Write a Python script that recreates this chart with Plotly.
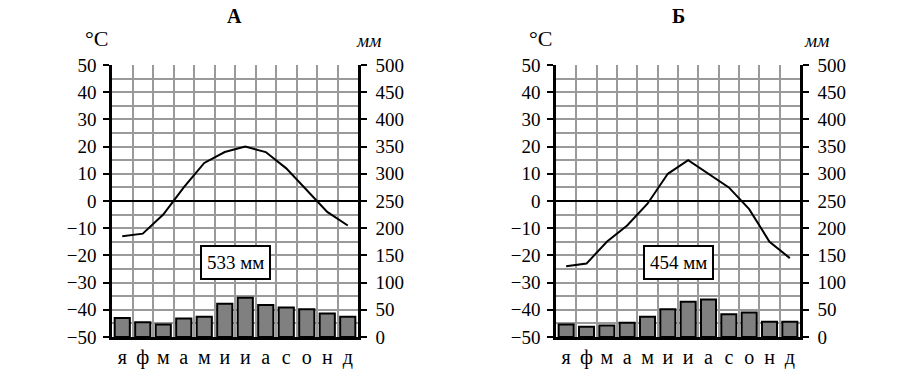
import plotly.graph_objects as go

months = ["я", "ф", "м", "а", "м", "и", "и", "а", "с", "о", "н", "д"]
temp_a = [-13, -12, -5, 5, 14, 18, 20, 18, 12, 4, -4, -9]
prec_a = [35, 27, 23, 34, 37, 61, 72, 59, 54, 51, 43, 37]
temp_b = [-24, -23, -15, -9, -1, 10, 15, 10, 5, -3, -15, -21]
prec_b = [23, 19, 21, 26, 37, 51, 65, 69, 42, 45, 28, 28]
titles = ["А", "Б"]
totals = ["533 мм", "454 мм"]
temp_ticks = [-50, -40, -30, -20, -10, 0, 10, 20, 30, 40, 50]
prec_ticks = [0, 50, 100, 150, 200, 250, 300, 350, 400, 450, 500]

W, H = 918, 384
OFF = 8  # page body margin offset
FONT = "Liberation Serif"
xpos = [i + 0.5 for i in range(12)]


def px(x):
    return (x - OFF) / W


def py(y):
    return 1 - (y - OFF) / H


fig = go.Figure()

panels = [
    dict(temp=temp_a, prec=prec_a, x0=112, x1=358, xa="x", ya="y", ya2="y2",
         tx=234, cx=96, mx=368),
    dict(temp=temp_b, prec=prec_b, x0=556, x1=800, xa="x2", ya="y3", ya2="y4",
         tx=678, cx=540, mx=816),
]
ytop, ybot = 65, 337
ydom = [py(ybot), py(ytop)]

layout = dict(
    width=W, height=H, margin=dict(l=0, r=0, t=0, b=0, pad=0, autoexpand=False),
    paper_bgcolor="white", plot_bgcolor="white", showlegend=False,
    font=dict(family=FONT, size=19, color="black"),
    annotations=[],
)

for i, p in enumerate(panels):
    xa, ya, ya2 = p["xa"], p["ya"], p["ya2"]
    fig.add_trace(go.Bar(x=xpos, y=p["prec"], xaxis=xa, yaxis=ya2,
                         marker=dict(color="#808080", line=dict(color="black", width=2)),
                         width=0.74))
    fig.add_trace(go.Scatter(x=xpos, y=p["temp"], xaxis=xa, yaxis=ya, mode="lines",
                             line=dict(color="black", width=2)))
    dom = [px(p["x0"]), px(p["x1"])]
    xkey = "xaxis" if xa == "x" else "xaxis2"
    ykey = "yaxis" if ya == "y" else "yaxis" + ya[1:]
    y2key = "yaxis" + ya2[1:]
    layout[xkey] = dict(
        domain=dom, range=[0, 12], anchor=ya, tickmode="array", tickvals=xpos,
        ticktext=months, ticks="", showgrid=False, zeroline=False,
        showline=True, linecolor="black", linewidth=2.5, automargin=False,
        tickfont=dict(size=20), ticklabelstandoff=0,
        minor=dict(tickmode="array", tickvals=list(range(13)), showgrid=True,
                   gridcolor="#9a9a9a", gridwidth=1.5, ticks=""),
        fixedrange=True,
    )
    layout[ykey] = dict(
        domain=ydom, range=[-50, 50], anchor=xa, tickmode="array", tickvals=temp_ticks,
        showgrid=True, gridcolor="#9a9a9a", gridwidth=1.5, automargin=False,
        minor=dict(dtick=5, tick0=0, showgrid=True, gridcolor="#9a9a9a", gridwidth=1.5, ticks=""),
        zeroline=True, zerolinecolor="black", zerolinewidth=1.5,
        showline=True, linecolor="black", linewidth=2.5,
        ticks="outside", ticklen=6, tickcolor="black", tickwidth=1.5,
        tickfont=dict(size=19), ticklabelstandoff=3,
    )
    layout[y2key] = dict(
        domain=ydom, range=[0, 500], anchor=xa, overlaying=ya, side="right",
        tickmode="array", tickvals=prec_ticks, showgrid=False, zeroline=False,
        showline=True, linecolor="black", linewidth=2.5, automargin=False,
        ticks="outside", ticklen=6, tickcolor="black", tickwidth=1.5,
        tickfont=dict(size=19), ticklabelstandoff=5,
    )
    layout["annotations"] += [
        dict(text="<b>" + titles[i] + "</b>", x=px(p["tx"]), y=py(16),
             xref="paper", yref="paper", xanchor="center", yanchor="middle",
             showarrow=False, font=dict(size=20)),
        dict(text="°C", x=px(p["cx"]), y=py(38), xref="paper", yref="paper",
             xanchor="center", yanchor="middle", showarrow=False, font=dict(size=22)),
        dict(text="<i>мм</i>", x=px(p["mx"]), y=py(40), xref="paper", yref="paper",
             xanchor="center", yanchor="middle", showarrow=False, font=dict(size=19)),
        dict(text=totals[i], x=6, y=-22.6, xref=xa, yref=ya, showarrow=False,
             xanchor="center", yanchor="middle",
             bordercolor="black", borderwidth=2, borderpad=5, bgcolor="white",
             font=dict(size=19)),
    ]

fig.update_layout(**layout)
fig.write_html("out.html")
